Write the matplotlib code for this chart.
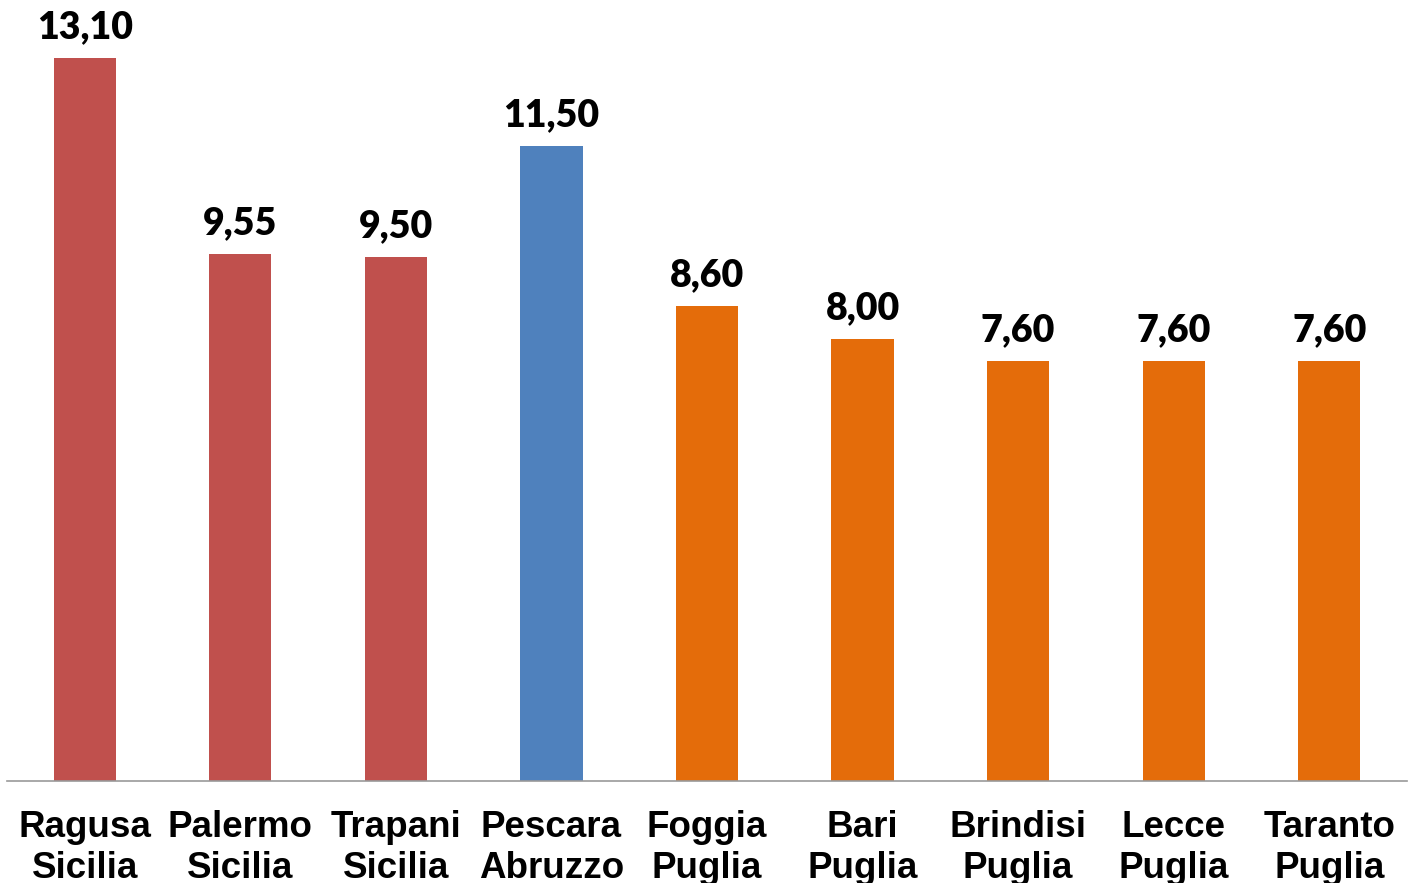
import matplotlib.pyplot as plt
import numpy as np

cities = ['Ragusa', 'Palermo', 'Trapani', 'Pescara', 'Foggia', 'Bari', 'Brindisi', 'Lecce', 'Taranto']
regions = ['Sicilia', 'Sicilia', 'Sicilia', 'Abruzzo', 'Puglia', 'Puglia', 'Puglia', 'Puglia', 'Puglia']
values = [13.10, 9.55, 9.50, 11.50, 8.60, 8.00, 7.60, 7.60, 7.60]

region_colors = {'Sicilia': '#C0504D', 'Abruzzo': '#4F81BD', 'Puglia': '#E46C0A'}

fig = plt.figure(figsize=(14.13, 8.83), dpi=100)
ax = fig.add_axes([7/1413, 102/883, 1400/1413, 781/883])

x = np.arange(len(cities))
colors = [region_colors[r] for r in regions]
bars = ax.bar(x, values, width=0.4, color=colors)

for xi, v in zip(x, values):
    ax.annotate(f'{v:.2f}'.replace('.', ','), (xi, v), xytext=(0, 10),
                textcoords='offset points', ha='center', va='bottom',
                fontsize=27, fontweight='heavy', family=['Lato', 'DejaVu Sans'])

ax.set_xlim(-0.5, len(cities) - 0.5)
ax.set_ylim(0, 781/55.2)
ax.set_xticks(x)
ax.set_xticklabels([c + '\n' + r for c, r in zip(cities, regions)],
                   fontsize=26.5, fontweight='bold', family=['Liberation Sans'],
                   linespacing=1.2)
ax.tick_params(axis='x', length=0, pad=21)
ax.set_yticks([])
for s in ['top', 'right', 'left']:
    ax.spines[s].set_visible(False)
ax.spines['bottom'].set_color('#999999')
ax.spines['bottom'].set_linewidth(1.2)

fig.savefig('out.png', dpi=100)
